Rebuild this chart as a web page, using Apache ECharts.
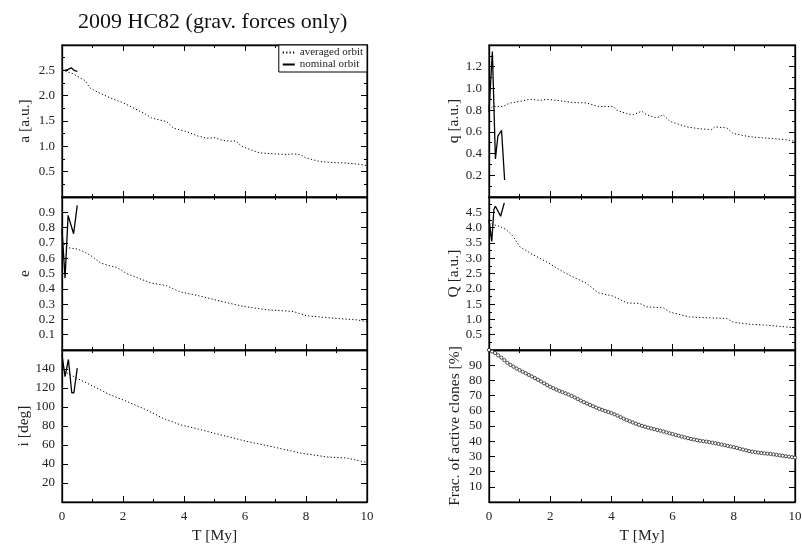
<!DOCTYPE html>
<html><head><meta charset="utf-8">
<script src="https://cdn.jsdelivr.net/npm/echarts@6/dist/echarts.min.js"></script>
<style>html,body{margin:0;padding:0;background:#fff}#c{width:802px;height:546px}</style>
</head><body><div id="c"></div>
<script>
// ---- data (T in My, value) ----
const avgA = [[0,2.5],[0.3,2.45],[0.75,2.3],[0.92,2.15],[1.2,2.06],[1.57,1.96],[2.0,1.86],[2.33,1.76],[2.7,1.65],[2.94,1.56],[3.2,1.52],[3.43,1.49],[3.65,1.36],[4.09,1.29],[4.47,1.2],[4.75,1.16],[5.02,1.17],[5.18,1.13],[5.5,1.1],[5.7,1.11],[5.89,1.0],[6.2,0.93],[6.49,0.87],[7.0,0.85],[7.37,0.84],[7.6,0.85],[7.8,0.84],[8.0,0.77],[8.46,0.7],[8.9,0.68],[9.33,0.67],[9.7,0.65],[10,0.62]];
const nomA = [[0,2.5],[0.1,2.5],[0.2,2.52],[0.3,2.55],[0.4,2.5],[0.5,2.48]];
const avgE = [[0,0.71],[0.15,0.67],[0.5,0.66],[0.75,0.64],[1.0,0.61],[1.25,0.57],[1.57,0.55],[1.8,0.54],[2.12,0.5],[2.5,0.47],[2.89,0.44],[3.43,0.42],[3.87,0.38],[4.47,0.355],[5.18,0.32],[5.94,0.285],[6.71,0.263],[7.58,0.252],[8.02,0.224],[8.9,0.208],[9.66,0.197],[10,0.186]];
const nomE = [[0,0.79],[0.1,0.47],[0.2,0.88],[0.38,0.76],[0.5,0.945]];
const avgI = [[0,141],[0.15,136],[0.59,128.7],[1.03,121.7],[1.57,113],[2.12,105.9],[2.77,97],[3.32,88],[3.87,81.4],[4.47,76.8],[5.18,70.8],[6.06,63.8],[6.94,57.9],[7.8,51.6],[8.68,47.4],[9.33,46.3],[10,41.7]];
const nomI = [[0,155],[0.1,132],[0.21,150],[0.32,115],[0.39,115],[0.5,141]];
const avgQp = [[0,0.8],[0.13,0.834],[0.46,0.834],[0.68,0.865],[1.0,0.88],[1.33,0.9],[1.66,0.89],[1.88,0.9],[2.31,0.887],[2.75,0.87],[3.19,0.866],[3.57,0.834],[3.62,0.82],[4.06,0.834],[4.17,0.80],[4.5,0.768],[4.71,0.758],[4.99,0.79],[5.15,0.758],[5.48,0.728],[5.69,0.758],[5.91,0.697],[6.46,0.646],[6.89,0.628],[7.28,0.62],[7.38,0.646],[7.77,0.637],[7.98,0.585],[8.53,0.554],[9.07,0.542],[9.62,0.53],[10,0.514]];
const nomQp = [[0,0.78],[0.11,1.34],[0.21,0.35],[0.29,0.56],[0.41,0.615],[0.51,0.157]];
const avgQa = [[0,4.2],[0.13,4.1],[0.35,4.04],[0.57,3.93],[0.79,3.71],[1.0,3.38],[1.44,3.11],[1.87,2.89],[2.31,2.62],[2.74,2.39],[3.19,2.18],[3.57,1.87],[4.06,1.76],[4.5,1.54],[4.93,1.52],[5.15,1.41],[5.69,1.38],[5.91,1.24],[6.56,1.08],[7.22,1.05],[7.77,1.03],[7.98,0.91],[8.53,0.84],[9.07,0.81],[10,0.73]];
const nomQa = [[0,4.26],[0.09,3.55],[0.16,4.59],[0.21,4.7],[0.38,4.37],[0.5,4.81]];
const fracT = [0,0.1,0.2,0.3,0.4,0.5,0.6,0.7,0.8,0.9,1.0,1.1,1.2,1.3,1.4,1.5,1.6,1.7,1.8,1.9,2.0,2.1,2.2,2.3,2.4,2.5,2.6,2.7,2.8,2.9,3.0,3.1,3.2,3.3,3.4,3.5,3.6,3.7,3.8,3.9,4.0,4.1,4.2,4.3,4.4,4.5,4.6,4.7,4.8,4.9,5.0,5.1,5.2,5.3,5.4,5.5,5.6,5.7,5.8,5.9,6.0,6.1,6.2,6.3,6.4,6.5,6.6,6.7,6.8,6.9,7.0,7.1,7.2,7.3,7.4,7.5,7.6,7.7,7.8,7.9,8.0,8.1,8.2,8.3,8.4,8.5,8.6,8.7,8.8,8.9,9.0,9.1,9.2,9.3,9.4,9.5,9.6,9.7,9.8,9.9,10.0];
const fracV = [100,99,98,96.5,95,93.3,91.6,90.2,89,87.8,86.8,85.7,84.7,83.6,82.6,81.5,80.4,79.3,78.1,76.9,75.8,74.9,74.0,73.1,72.3,71.5,70.7,69.8,68.8,67.7,66.7,65.7,64.8,63.9,63.0,62.1,61.3,60.6,59.9,59.2,58.5,57.7,56.8,55.8,54.8,53.9,53.1,52.3,51.5,50.8,50.1,49.5,48.9,48.4,47.9,47.4,46.9,46.4,45.8,45.2,44.7,44.1,43.6,43.0,42.5,42.0,41.5,41.1,40.7,40.3,40.0,39.7,39.4,39.0,38.6,38.2,37.8,37.4,36.9,36.5,36.1,35.6,35.0,34.5,34.0,33.5,33.1,32.8,32.5,32.2,32.0,31.8,31.6,31.3,31.0,30.7,30.4,30.1,29.8,29.5,29.2];
const titleText = '2009 HC82 (grav. forces only)';
const xName = 'T [My]';
const panels = [
  {name:'a [a.u.]', min:0, max:3, interval:0.5, minor:2, dec:1},
  {name:'e', min:0, max:1, interval:0.1, minor:0, dec:1},
  {name:'i [deg]', min:0, max:160, interval:20, minor:0, dec:0},
  {name:'q [a.u.]', min:0, max:1.4, interval:0.2, minor:2, dec:1},
  {name:'Q [a.u.]', min:0, max:5, interval:0.5, minor:2, dec:1},
  {name:'Frac. of active clones [%]', min:0, max:100, interval:10, minor:0, dec:0}
];

const FONT = 'Liberation Serif';
const grids = [
  {left:62, top:45, width:305, height:152},
  {left:62, top:197, width:305, height:153},
  {left:62, top:350, width:305, height:152},
  {left:489, top:45, width:306, height:152},
  {left:489, top:197, width:306, height:153},
  {left:489, top:350, width:306, height:152}
];
const xAxes = [], yAxes = [];
grids.forEach((g, k) => {
  const bottomPanel = (k === 2 || k === 5);
  ['bottom','top'].forEach(pos => {
    const main = pos === 'bottom';
    xAxes.push({
      type:'value', gridIndex:k, min:0, max:10, interval:2, position:pos,
      axisLine:{show:true, onZero:false, lineStyle:{color:'#000', width:1.3}},
      axisTick:{show:true, inside:true, length:6, lineStyle:{color:'#000', width:1}},
      minorTick:{show:true, splitNumber:2, length:3, lineStyle:{color:'#000', width:1}},
      splitLine:{show:false},
      axisLabel:{show: main && bottomPanel, color:'#222', fontFamily:FONT, fontSize:13, margin:8},
      name: (main && bottomPanel) ? xName : '', nameLocation:'middle', nameGap:26,
      nameTextStyle:{color:'#222', fontFamily:FONT, fontSize:15.5}
    });
  });
  const p = panels[k];
  ['left','right'].forEach(pos => {
    const main = pos === 'left';
    yAxes.push({
      type:'value', gridIndex:k, min:p.min, max:p.max, interval:p.interval, position:pos,
      axisLine:{show:true, onZero:false, lineStyle:{color:'#000', width:1.3}},
      axisTick:{show:true, inside:true, length:6, lineStyle:{color:'#000', width:1}},
      minorTick:{show:p.minor>0, splitNumber:p.minor||2, length:3, lineStyle:{color:'#000', width:1}},
      splitLine:{show:false},
      axisLabel:{show:main, showMinLabel:false, showMaxLabel:false, color:'#222', fontFamily:FONT, fontSize:13, margin:7,
        formatter: v => v.toFixed(p.dec)},
      name: main ? p.name : '', nameLocation:'middle', nameGap: (k>=3 ? 26 : 29),
      nameTextStyle:{color:'#222', fontFamily:FONT, fontSize:15.5}
    });
  });
});

const avgSets = [avgA, avgE, avgI, avgQp, avgQa];
const nomSets = [nomA, nomE, nomI, nomQp, nomQa];
const series = [];
avgSets.forEach((d, k) => {
  series.push({
    name:'averaged orbit', type:'line', xAxisIndex:2*k, yAxisIndex:2*k, data:d,
    showSymbol:false, symbol:'none', silent:true, animation:false,
    itemStyle:{color:'#000'},
    lineStyle:{color:'#000', width:1, type:[1.2,2.2]}, z:2
  });
  series.push({
    name:'nominal orbit', type:'line', xAxisIndex:2*k, yAxisIndex:2*k, data:nomSets[k],
    showSymbol:false, symbol:'none', silent:true, animation:false,
    itemStyle:{color:'#000'},
    lineStyle:{color:'#000', width:1.3}, z:3
  });
});
series.push({
  name:'frac', type:'line', xAxisIndex:10, yAxisIndex:10,
  data: fracT.map((t,i)=>[t, fracV[i]]),
  symbol:'circle', symbolSize:3.2, showSymbol:true, silent:true, animation:false, clip:false,
  itemStyle:{color:'#fff', borderColor:'#222', borderWidth:0.8},
  lineStyle:{opacity:0, width:0}, z:3
});

const chart = echarts.init(document.getElementById('c'), null, {renderer:'canvas'});
chart.setOption({
  backgroundColor:'#fff',
  animation:false,
  title:{text:titleText, left:73, top:6, textStyle:{fontFamily:FONT, fontSize:22, fontWeight:'normal', color:'#111'}},
  legend:{
    data:['averaged orbit','nominal orbit'], orient:'vertical', right:435, top:45,
    backgroundColor:'#fff', borderColor:'#000', borderWidth:1, padding:[2,4,2,3], itemGap:1,
    itemWidth:12, itemHeight:10, itemStyle:{opacity:0},
    textStyle:{fontFamily:FONT, fontSize:11, color:'#222'}
  },
  grid:grids.map(g=>Object.assign({containLabel:false, outerBoundsMode:'none', show:true, borderColor:'#000', borderWidth:1.2, backgroundColor:'transparent'}, g)),
  xAxis:xAxes, yAxis:yAxes, series:series
});
</script></body></html>
